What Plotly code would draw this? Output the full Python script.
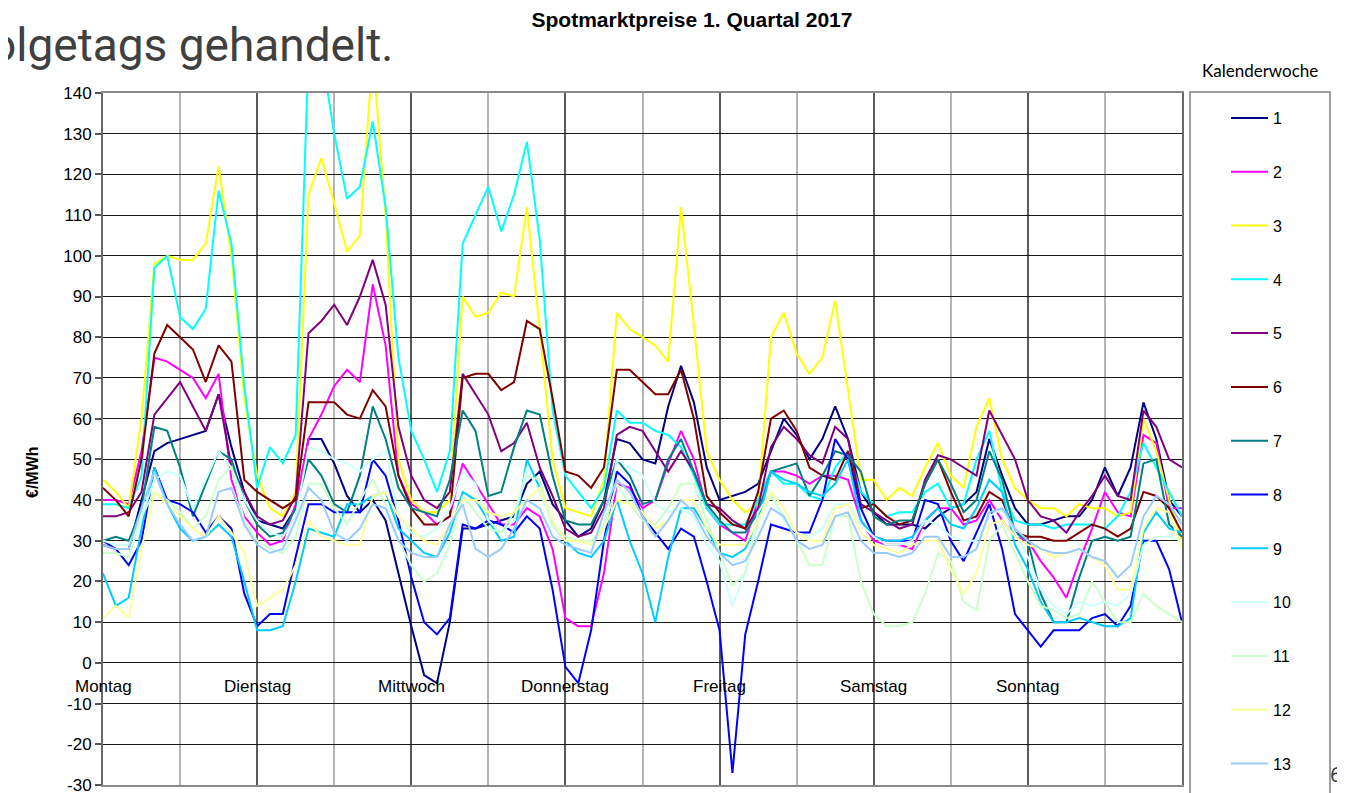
import plotly.graph_objects as go

# hour of the week (Monday 0h .. Sunday 24h), sampled every 2 hours
hours = list(range(0, 169, 2))
day_labels = ["Montag", "Dienstag", "Mittwoch", "Donnerstag", "Freitag", "Samstag", "Sonntag"]
day_starts = [0, 24, 48, 72, 96, 120, 144]
week_names = [str(i) for i in range(1, 14)]
y_ticks = [-30, -20, -10, 0, 10, 20, 30, 40, 50, 60, 70, 80, 90, 100, 110, 120, 130, 140]
y_tick_text = ["-30", "-20", "-10", "0", "10", "20", "30", "40", "50", "60", "70", "80",
               "90", "100", "110", "120", "130", "140"]

# €/MWh per calendar week
kw01 = [29, 28, 28, 40, 52, 54, 55, 56, 57, 66, 53, 42,
        35, 34, 33, 38, 55, 55, 49, 41, 37, 40, 35, 22,
        9, -3, -5, 10, 33, 33, 34, 35, 36, 44, 47, 39,
        35, 31, 33, 40, 55, 54, 50, 49, 63, 73, 64, 48,
        40, 41, 42, 44, 52, 60, 56, 50, 55, 63, 55, 42,
        37, 34, 34, 34, 33, 36, 38, 39, 42, 55, 46, 38,
        34, 34, 35, 36, 36, 40, 48, 41, 48, 64, 55, 40, 36]
kw02 = [40, 40, 39, 52, 75, 74, 72, 70, 65, 71, 45, 36,
        32, 29, 30, 39, 55, 61, 68, 72, 69, 93, 78, 46,
        39, 37, 34, 36, 49, 44, 39, 34, 34, 38, 36, 28,
        11, 9, 9, 22, 44, 43, 38, 40, 49, 57, 50, 38,
        34, 32, 30, 40, 47, 47, 46, 44, 46, 46, 45, 35,
        30, 29, 29, 28, 35, 38, 38, 34, 35, 40, 35, 31,
        30, 25, 21, 16, 25, 33, 42, 37, 36, 56, 54, 38, 38]
kw03 = [45, 42, 38, 60, 98, 100, 99, 99, 103, 122, 100, 65,
        46, 38, 36, 42, 115, 124, 113, 101, 105, 150, 110, 50,
        40, 37, 37, 40, 90, 85, 86, 91, 90, 112, 82, 50,
        38, 37, 36, 45, 86, 82, 80, 78, 74, 112, 83, 52,
        45, 40, 37, 39, 80, 86, 76, 71, 75, 89, 67, 45,
        45, 40, 43, 41, 48, 54, 46, 43, 58, 65, 50, 43,
        40, 38, 38, 36, 39, 38, 38, 36, 37, 60, 52, 40, 30]
kw04 = [39, 39, 38, 46, 97, 100, 85, 82, 87, 116, 103, 68,
        43, 53, 49, 56, 150, 150, 130, 114, 117, 133, 112, 75,
        57, 50, 42, 52, 103, 110, 117, 106, 115, 128, 104, 62,
        46, 42, 38, 43, 62, 59, 59, 57, 56, 53, 46, 38,
        34, 34, 34, 40, 47, 44, 44, 41, 40, 48, 52, 42,
        39, 36, 37, 37, 42, 44, 38, 39, 50, 57, 42, 35,
        34, 34, 33, 34, 34, 34, 33, 36, 42, 54, 48, 42, 36]
kw05 = [36, 36, 37, 42, 61, 65, 69, 63, 57, 66, 48, 42,
        36, 34, 35, 41, 81, 84, 88, 83, 90, 99, 88, 58,
        46, 40, 38, 42, 71, 66, 61, 52, 54, 59, 48, 41,
        33, 31, 32, 38, 56, 58, 57, 52, 47, 52, 47, 39,
        38, 35, 33, 38, 53, 58, 55, 51, 49, 58, 55, 39,
        37, 35, 33, 34, 45, 51, 50, 48, 46, 62, 56, 50,
        40, 36, 35, 32, 37, 41, 46, 41, 40, 62, 58, 50, 48]
kw06 = [43, 40, 36, 50, 76, 83, 80, 77, 69, 78, 74, 45,
        42, 40, 38, 40, 64, 64, 64, 61, 60, 67, 63, 46,
        38, 34, 34, 36, 70, 71, 71, 67, 69, 84, 82, 65,
        47, 46, 43, 48, 72, 72, 69, 66, 66, 72, 60, 41,
        37, 34, 33, 42, 60, 62, 57, 48, 46, 45, 52, 38,
        39, 36, 34, 35, 44, 50, 42, 35, 36, 42, 40, 32,
        31, 31, 30, 30, 32, 34, 33, 31, 33, 42, 41, 38, 32]
kw07 = [30, 31, 30, 38, 58, 57, 48, 36, 44, 52, 50, 40,
        34, 31, 32, 38, 50, 46, 39, 37, 46, 63, 55, 43,
        38, 37, 36, 45, 62, 57, 41, 42, 53, 62, 61, 46,
        35, 34, 34, 40, 50, 46, 39, 40, 50, 55, 47, 39,
        35, 32, 32, 37, 47, 48, 49, 41, 46, 52, 51, 47,
        36, 34, 35, 35, 44, 50, 44, 37, 40, 52, 45, 32,
        30, 17, 10, 10, 21, 30, 31, 30, 31, 49, 50, 34, 31]
kw08 = [30, 28, 24, 30, 48, 40, 39, 37, 32, 36, 33, 17,
        9, 12, 12, 26, 39, 39, 37, 37, 37, 50, 46, 35,
        21, 10, 7, 11, 34, 33, 35, 34, 32, 36, 33, 18,
        -1, -5, 8, 30, 47, 44, 36, 32, 28, 33, 31, 20,
        8, -27, 7, 20, 34, 33, 32, 32, 40, 55, 50, 38,
        31, 30, 30, 30, 40, 39, 30, 25, 32, 39, 28, 12,
        8, 4, 8, 8, 8, 11, 12, 9, 14, 30, 30, 23, 10]
kw09 = [22, 14, 16, 33, 48, 39, 33, 30, 31, 34, 31, 20,
        8, 8, 9, 20, 33, 32, 31, 39, 39, 41, 42, 33,
        30, 27, 26, 32, 42, 40, 35, 30, 31, 50, 43, 34,
        30, 27, 26, 30, 40, 30, 22, 10, 26, 38, 38, 33,
        27, 26, 28, 35, 47, 45, 44, 42, 41, 44, 50, 35,
        31, 30, 30, 31, 35, 38, 34, 33, 38, 45, 42, 29,
        23, 15, 10, 10, 11, 10, 9, 9, 11, 32, 37, 33, 32]
kw10 = [30, 29, 29, 36, 45, 47, 46, 38, 45, 52, 48, 40,
        35, 32, 31, 36, 53, 52, 50, 49, 47, 50, 52, 36,
        32, 31, 33, 38, 47, 44, 35, 32, 35, 48, 42, 34,
        30, 30, 29, 34, 50, 48, 46, 39, 37, 38, 36, 29,
        25, 14, 22, 37, 42, 35, 32, 31, 33, 39, 39, 34,
        31, 29, 29, 30, 35, 34, 31, 30, 30, 36, 38, 32,
        26, 18, 14, 12, 15, 14, 15, 14, 17, 29, 31, 31, 30]
kw11 = [27, 27, 26, 36, 42, 40, 37, 33, 36, 45, 48, 35,
        30, 28, 27, 31, 44, 44, 38, 34, 40, 45, 39, 30,
        24, 20, 22, 29, 41, 37, 33, 32, 37, 46, 45, 34,
        31, 30, 30, 33, 44, 39, 35, 34, 38, 44, 44, 35,
        27, 19, 22, 35, 41, 36, 30, 24, 24, 36, 36, 20,
        12, 9, 9, 10, 17, 27, 25, 15, 13, 30, 34, 27,
        20, 14, 13, 11, 12, 20, 15, 10, 10, 17, 14, 12, 10]
kw12 = [11, 14, 11, 28, 42, 39, 36, 33, 31, 36, 32, 27,
        14, 16, 18, 24, 35, 31, 30, 29, 29, 41, 42, 36,
        33, 30, 29, 34, 40, 40, 37, 36, 37, 40, 43, 35,
        30, 30, 29, 33, 40, 39, 37, 33, 35, 40, 40, 33,
        29, 29, 29, 35, 42, 38, 32, 30, 30, 38, 39, 32,
        29, 28, 27, 29, 30, 30, 23, 17, 22, 34, 35, 31,
        29, 28, 26, 27, 28, 26, 24, 18, 18, 33, 38, 37, 28]
kw13 = [29, 28, 28, 38, 47, 39, 34, 30, 31, 42, 43, 34,
        29, 27, 28, 35, 43, 40, 32, 30, 33, 39, 38, 30,
        27, 26, 26, 34, 39, 28, 26, 28, 33, 40, 38, 31,
        29, 28, 27, 37, 45, 42, 36, 31, 35, 40, 37, 31,
        27, 24, 25, 31, 38, 36, 30, 28, 29, 36, 37, 30,
        27, 27, 26, 27, 31, 31, 26, 26, 28, 37, 38, 33,
        30, 28, 27, 27, 28, 26, 25, 21, 24, 36, 41, 39, 34]

series = [kw01, kw02, kw03, kw04, kw05, kw06, kw07, kw08, kw09, kw10, kw11, kw12, kw13]
colors = ["#000080", "#FF00FF", "#FFFF00", "#00FFFF", "#800080", "#800000", "#008080",
          "#0000FF", "#00CCFF", "#CCFFFF", "#CCFFCC", "#FFFF99", "#99CCFF"]

# the page body adds an 8px margin; the figure is sized to fill the rest of the window
OFF = 8
W, H = 1345 - OFF, 793 - OFF
ML, MR, MT, MB = 103 - OFF, 163, 93 - OFF, 8
PW = W - ML - MR
PH = H - MT - MB

def px_x(p):
    # p = pixel position in the screenshot
    return (p - OFF - ML) / PW

def px_y(p):
    return 1 - (p - OFF - MT) / PH

AX_FONT = "Liberation Sans, Arial, sans-serif"

fig = go.Figure()
for name, vals, col in zip(week_names, series, colors):
    fig.add_trace(go.Scatter(
        x=hours, y=vals, mode="lines", name=name, legendgroup=name,
        line=dict(color=col, width=2), hoverinfo="x+y+name",
    ))

annotations = []
for lab, d in zip(day_labels, day_starts):
    annotations.append(dict(x=d, y=0, xref="x", yref="y", text=lab, showarrow=False,
                            xanchor="center", yanchor="top", yshift=-12,
                            font=dict(family=AX_FONT, size=17, color="#000")))
annotations += [
    dict(x=px_x(32), y=px_y(472), xref="paper", yref="paper", text="<b>€/MWh</b>",
         textangle=-90, showarrow=False, xanchor="center", yanchor="middle",
         font=dict(family=AX_FONT, size=16, color="#000")),
    dict(x=px_x(1260), y=px_y(70), xref="paper", yref="paper", text="Kalenderwoche",
         showarrow=False, xanchor="center", yanchor="middle",
         font=dict(family="Lato, Carlito, sans-serif", size=17, color="#000")),
    dict(x=px_x(-12), y=px_y(45), xref="paper", yref="paper", text="olgetags gehandelt.",
         showarrow=False, xanchor="left", yanchor="middle",
         font=dict(family="Roboto, sans-serif", size=46, color="#404040")),
    dict(x=px_x(1335), y=px_y(775), xref="paper", yref="paper", text="6",
         showarrow=False, xanchor="center", yanchor="middle",
         font=dict(family="Roboto, sans-serif", size=20, color="#404040")),
]

fig.update_layout(
    width=W, height=H,
    margin=dict(l=ML, r=MR, t=MT, b=MB, autoexpand=False),
    paper_bgcolor="white", plot_bgcolor="white",
    title=dict(text="<b>Spotmarktpreise 1. Quartal 2017</b>", x=(692 - OFF) / W, y=1 - (20 - OFF) / H,
               xanchor="center", yanchor="middle", font=dict(family=AX_FONT, size=21, color="#000")),
    xaxis=dict(range=[0, 168], showticklabels=False, ticks="", dtick=24, tick0=0,
               showgrid=True, gridcolor="#5a5a5a", gridwidth=2,
               minor=dict(dtick=12, tick0=0, showgrid=True, gridcolor="#b4b4b4", gridwidth=2),
               zeroline=False, showline=True, linecolor="#8a8a8a", linewidth=2, mirror=True),
    yaxis=dict(range=[-30, 140], tickmode="array", tickvals=y_ticks, ticktext=y_tick_text,
               ticks="outside", ticklen=6, ticklabeloverflow="allow",
               tickcolor="#555", tickwidth=2, showgrid=True, gridcolor="#1a1a1a", gridwidth=1,
               zeroline=False, showline=True, linecolor="#6a6a6a", linewidth=2, mirror=True,
               tickfont=dict(family=AX_FONT, size=17, color="#000")),
    showlegend=True,
    legend=dict(x=px_x(1226), y=px_y(101), xanchor="left", yanchor="top",
                bgcolor="rgba(0,0,0,0)", borderwidth=0, tracegroupgap=30,
                itemwidth=37, font=dict(family=AX_FONT, size=16, color="#000"),
                traceorder="grouped"),
    annotations=annotations,
    shapes=[dict(type="rect", xref="paper", yref="paper",
                 x0=px_x(1190), x1=px_x(1330), y0=px_y(92), y1=px_y(805),
                 line=dict(color="#808080", width=1.5), fillcolor="rgba(0,0,0,0)", layer="below")],
)

fig.write_html("out.html")
